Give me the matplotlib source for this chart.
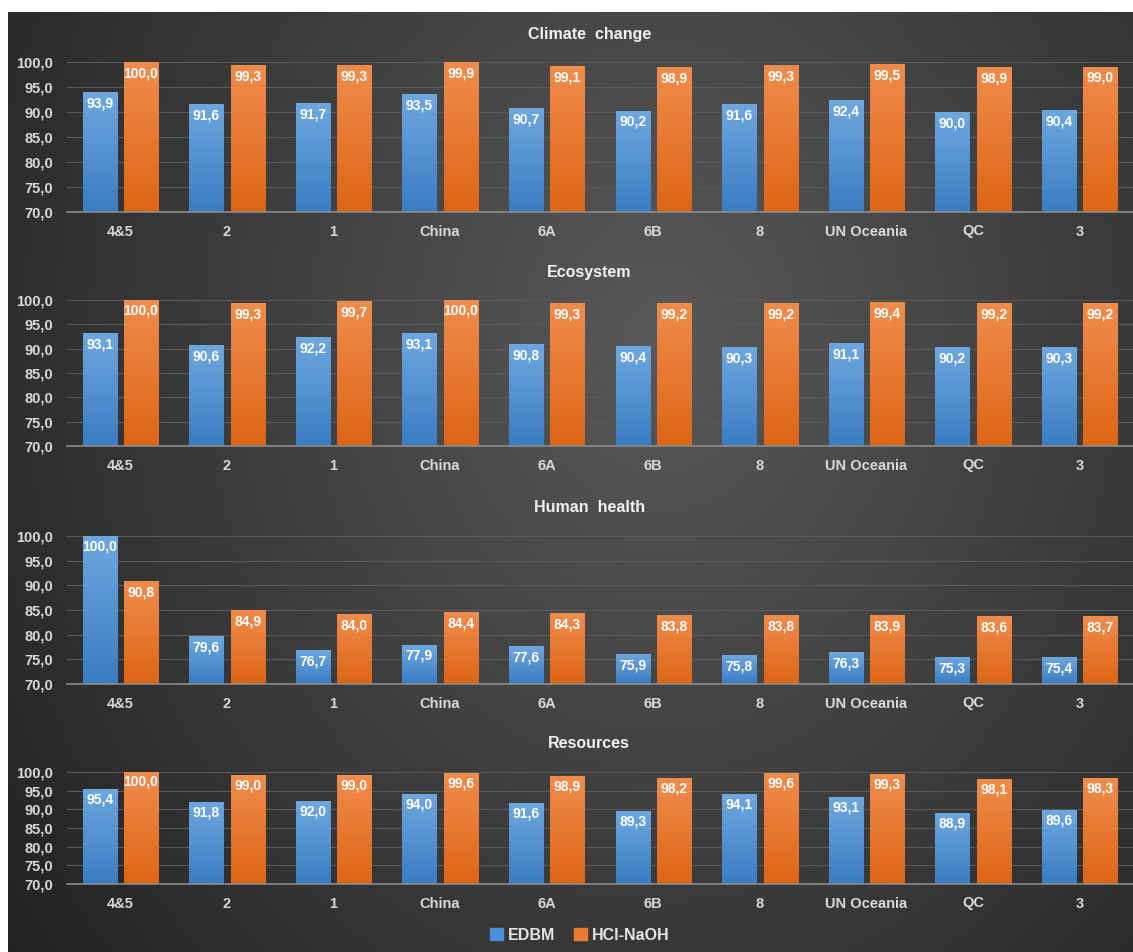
import matplotlib.pyplot as plt
import numpy as np
from matplotlib.colors import LinearSegmentedColormap
from matplotlib.patches import Patch

categories = ['4&5', '2', '1', 'China', '6A', '6B', '8', 'UN Oceania', 'QC', '3']
titles = ['Climate change', 'Ecosystem', 'Human health', 'Resources']

climate_edbm = [93.9, 91.6, 91.7, 93.5, 90.7, 90.2, 91.6, 92.4, 90.0, 90.4]
climate_hcl = [100.0, 99.3, 99.3, 99.9, 99.1, 98.9, 99.3, 99.5, 98.9, 99.0]
eco_edbm = [93.1, 90.6, 92.2, 93.1, 90.8, 90.4, 90.3, 91.1, 90.2, 90.3]
eco_hcl = [100.0, 99.3, 99.7, 100.0, 99.3, 99.2, 99.2, 99.4, 99.2, 99.2]
health_edbm = [100.0, 79.6, 76.7, 77.9, 77.6, 75.9, 75.8, 76.3, 75.3, 75.4]
health_hcl = [90.8, 84.9, 84.0, 84.4, 84.3, 83.8, 83.8, 83.9, 83.6, 83.7]
res_edbm = [95.4, 91.8, 92.0, 94.0, 91.6, 89.3, 94.1, 93.1, 88.9, 89.6]
res_hcl = [100.0, 99.0, 99.0, 99.6, 98.9, 98.2, 99.6, 99.3, 98.1, 98.3]

edbm = [climate_edbm, eco_edbm, health_edbm, res_edbm]
hcl = [climate_hcl, eco_hcl, health_hcl, res_hcl]
yticks = [70, 75, 80, 85, 90, 95, 100]

plt.rcParams['font.family'] = ['Liberation Sans', 'DejaVu Sans']
plt.rcParams['font.weight'] = 'bold'

W, H = 1133, 952
fig = plt.figure(figsize=(W / 100, H / 100), dpi=100)
fig.patch.set_facecolor('white')

# dark background with a soft lighter centre
bg = fig.add_axes([8 / W, 0, 1 - 8 / W, 1 - 12 / H])
bg.set_axis_off()
xx, yy = np.meshgrid(np.linspace(0, 1, 400), np.linspace(0, 1, 400))
d = np.sqrt(((xx - 0.58) / 0.75) ** 2 + ((yy - 0.35) / 1.1) ** 2)
val = 0.35 - 0.22 * np.clip(d, 0, 1)
bg.imshow(np.dstack([val, val, val]), extent=[0, 1, 0, 1], aspect='auto', origin='upper')
bg.set_xlim(0, 1)
bg.set_ylim(0, 1)

blue_cmap = LinearSegmentedColormap.from_list('b', ['#3a7dc2', '#6ea7e0'])
orange_cmap = LinearSegmentedColormap.from_list('o', ['#de6516', '#f08c4c'])

# (top px, bottom px) of each plot area
panels = [(62, 212), (300, 446), (536, 684), (772, 884)]
left = 67 / W
width = 1 - left

x = np.arange(len(categories))
off = 0.194
bw = 0.32
grad = np.linspace(0, 1, 100).reshape(-1, 1)

for i, (top, bot) in enumerate(panels):
    ax = fig.add_axes([left, 1 - bot / H, width, (bot - top) / H])
    ax.patch.set_alpha(0)
    for series, cmap, sign in [(edbm[i], blue_cmap, -1), (hcl[i], orange_cmap, 1)]:
        bars = ax.bar(x + sign * off, series, bw, color='none', zorder=2)
        for rect, v in zip(bars, series):
            x0 = rect.get_x()
            ax.imshow(grad, extent=[x0, x0 + rect.get_width(), 70, v], origin='lower',
                      aspect='auto', cmap=cmap, zorder=2)
            ax.text(x0 + rect.get_width() / 2, v - 0.8, f'{v:.1f}'.replace('.', ','),
                    ha='center', va='top', color='white', fontsize=10,
                    fontweight='bold', zorder=3)
    ax.set_xlim(-0.5, len(categories) - 0.5)
    ax.set_ylim(70, 100)
    ax.set_yticks(yticks)
    ax.set_yticklabels([f'{t:.1f}'.replace('.', ',') for t in yticks])
    ax.set_xticks(x)
    ax.set_xticklabels(categories)
    ax.tick_params(length=0, colors='#d9d9d9', labelsize=10.5, pad=9)
    ax.tick_params(axis='y', pad=10)
    for lab in ax.get_xticklabels() + ax.get_yticklabels():
        lab.set_fontweight('bold')
    ax.grid(axis='y', color='#5a5a5a', linewidth=0.8, zorder=0)
    ax.set_axisbelow(True)
    for s in ['top', 'right', 'left']:
        ax.spines[s].set_visible(False)
    ax.spines['bottom'].set_color('#8c8c8c')
    ax.spines['bottom'].set_linewidth(1.2)
    fig.text(0.52, 1 - (top - 28) / H, '  '.join(titles[i].split(' ')), ha='center', va='center',
             color='#f2f2f2', fontsize=11.5, fontweight='bold')

handles = [Patch(color='#4a8fd6', label='EDBM'), Patch(color='#ec7a30', label='HCl-NaOH')]
fig.legend(handles=handles, loc='center', bbox_to_anchor=(580 / W, 1 - 935 / H), ncol=2,
           frameon=False, labelcolor='#e6e6e6', handlelength=0.8,
           handleheight=0.8, handletextpad=0.3, columnspacing=1.2,
           prop={'weight': 'bold', 'size': 11.5})

fig.savefig('out.png', dpi=100)
